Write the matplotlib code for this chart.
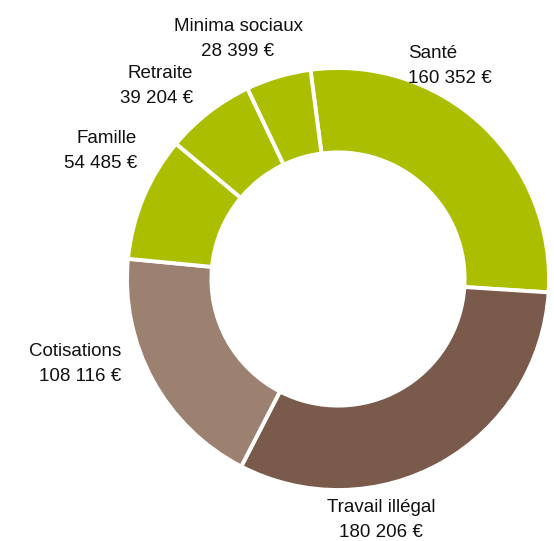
import matplotlib
matplotlib.use("Agg")
import matplotlib.pyplot as plt

# Données (sens horaire à partir de Santé)
categories = ["Santé", "Travail illégal", "Cotisations", "Famille", "Retraite", "Minima sociaux"]
montants = [160352, 180206, 108116, 54485, 39204, 28399]
etiquettes = ["160 352 €", "180 206 €", "108 116 €", "54 485 €", "39 204 €", "28 399 €"]

couleurs = ["#abbf00", "#7a5b4b", "#9c8070", "#abbf00", "#abbf00", "#abbf00"]

plt.rcParams['font.family'] = ['Liberation Sans', 'DejaVu Sans']

W, H = 554, 541
cx, cy, R = 338, 279, 211  # centre et rayon en pixels


def px(x, y):
    # pixels -> coordonnées des données (rayon = 1)
    return (x - cx) / R, (cy - y) / R


fig = plt.figure(figsize=(W / 100, H / 100), dpi=100)
ax = fig.add_axes([0, 0, 1, 1])

ax.pie(montants, colors=couleurs, startangle=97.5, counterclock=False,
       radius=1, wedgeprops=dict(width=0.4, edgecolor="white", linewidth=2.8))

ax.set_xlim(-cx / R, (W - cx) / R)
ax.set_ylim(-(H - cy) / R, cy / R)
ax.set_aspect("equal")
ax.axis("off")

# position des étiquettes (pixel x, pixel y, alignement)
positions = {
    "Santé": (408, 66, "left"),
    "Travail illégal": (381, 520, "center"),
    "Cotisations": (121, 364, "right"),
    "Famille": (137, 151, "right"),
    "Retraite": (193, 86, "right"),
    "Minima sociaux": (238, 39, "center"),
}

for cat, lab in zip(categories, etiquettes):
    x, y, ha = positions[cat]
    tx, ty = px(x, y)
    ax.text(tx, ty, f"{cat}\n{lab}", ha=ha, va="center", multialignment=ha,
            fontsize=13.5, color="#111111", linespacing=1.55)

fig.savefig("out.png", dpi=100)
